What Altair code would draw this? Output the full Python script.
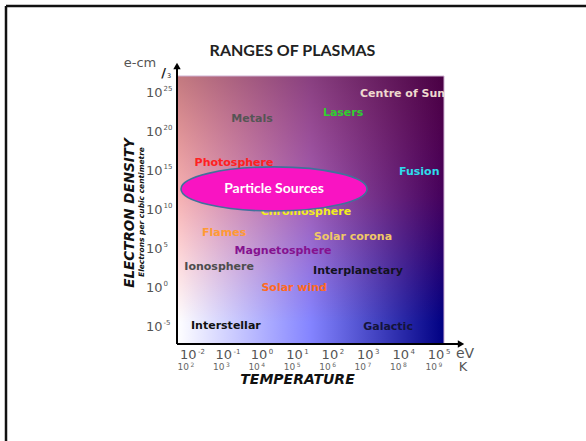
import altair as alt
import pandas as pd

# ---- data -------------------------------------------------------------
# Plasma regions placed by log10(temperature / eV) and log10(density / cm^-3)
region_names = ["Centre of Sun", "Lasers", "Metals", "Photosphere", "Fusion",
                "Chromosphere", "Flames", "Solar corona", "Magnetosphere",
                "Ionosphere", "Interplanetary", "Solar wind", "Interstellar",
                "Galactic"]
region_log_temp = [3.96, 2.28, -0.29, -0.80, 4.43, 1.23, -1.08, 2.56, 0.585,
                   -1.22, 2.70, 0.90, -1.03, 3.55]
region_log_density = [24.87, 22.43, 21.66, 16.0, 14.86, 9.72, 7.03, 6.51, 4.72,
                      2.66, 2.15, -0.03, -4.91, -5.04]
region_colors = ["#eed9cf", "#2fd12f", "#555555", "#ff2020", "#2edcec",
                 "#f2ee1e", "#ff9a33", "#f0c866", "#85128f", "#4d4d4d",
                 "#12121f", "#ff6a22", "#111111", "#14143a"]

# Highlighted area
source_name = ["Particle Sources"]
source_log_temp = [0.33]
source_log_density = [12.68]

# Axis ticks
temp_exponents = [-2, -1, 0, 1, 2, 3, 4, 5]
kelvin_exponents = ["2", "3", "4", "5", "6", "7", "8", "9"]
density_exponents = [25, 20, 15, 10, 5, 0, -5]

W, H = 267, 268
X_DOMAIN = [-2.41, 5.13]
Y_DOMAIN = [-7.22, 27.18]

xs = alt.Scale(domain=X_DOMAIN, nice=False, zero=False)
ys = alt.Scale(domain=Y_DOMAIN, nice=False, zero=False)

regions = pd.DataFrame({"name": region_names, "t": region_log_temp,
                        "d": region_log_density, "c": region_colors})
source = pd.DataFrame({"name": source_name, "t": source_log_temp,
                       "d": source_log_density})
xticks = pd.DataFrame({"t": temp_exponents,
                       "e": [str(v) for v in temp_exponents],
                       "k": kelvin_exponents})
yticks = pd.DataFrame({"d": density_exponents,
                       "e": [str(v) for v in density_exponents]})
one = pd.DataFrame({"a": [0]})

FONT = "DejaVu Sans"

# ---- background gradients --------------------------------------------
base_grad = alt.LinearGradient(
    gradient="linear", x1=0, x2=1, y1=0, y2=0,
    stops=[alt.GradientStop(color="#ffffff", offset=0),
           alt.GradientStop(color="#8484ff", offset=0.5),
           alt.GradientStop(color="#000082", offset=1)])
red_grad = alt.LinearGradient(
    gradient="linear", x1=0, x2=0, y1=0, y2=1,
    stops=[alt.GradientStop(color="rgba(140,0,10,0.52)", offset=0),
           alt.GradientStop(color="rgba(225,0,0,0.30)", offset=0.45),
           alt.GradientStop(color="rgba(255,0,0,0.12)", offset=0.72),
           alt.GradientStop(color="rgba(255,0,0,0.0)", offset=0.92),
           alt.GradientStop(color="rgba(255,0,0,0.0)", offset=1)])

box = dict(x=alt.value(0), x2=alt.value(W), y=alt.value(0), y2=alt.value(H))
bg = alt.Chart(one).mark_rect(fill=base_grad).encode(**box)
bg_red = alt.Chart(one).mark_rect(fill=red_grad, stroke="#cfb2d2",
                                  strokeWidth=1).encode(**box)

# ---- region labels ----------------------------------------------------
labels = alt.Chart(regions).mark_text(
    font=FONT, fontWeight="bold", fontSize=11, align="center",
    baseline="middle", clip=True).encode(
    x=alt.X("t:Q", scale=xs, axis=None),
    y=alt.Y("d:Q", scale=ys, axis=None),
    text="name:N",
    color=alt.Color("c:N", scale=None))

ellipse_path = ("M -1 0 C -1 -0.131 -0.552 -0.237 0 -0.237 "
                "C 0.552 -0.237 1 -0.131 1 0 "
                "C 1 0.131 0.552 0.237 0 0.237 "
                "C -0.552 0.237 -1 0.131 -1 0 Z")
ellipse = alt.Chart(source).mark_point(
    shape=ellipse_path, filled=True, fill="#f914c2", fillOpacity=1,
    opacity=1, stroke="#41719c", strokeWidth=1.6, size=34600).encode(
    x=alt.X("t:Q", scale=xs), y=alt.Y("d:Q", scale=ys))
ellipse_text = alt.Chart(source).mark_text(
    font="Lato", fontWeight="bold", fontSize=14, color="white",
    align="center", baseline="middle").encode(
    x=alt.X("t:Q", scale=xs), y=alt.Y("d:Q", scale=ys), text="name:N")

# ---- axes with arrows -------------------------------------------------
axis_x = alt.Chart(one).mark_rule(color="black", strokeWidth=2).encode(
    x=alt.value(0), x2=alt.value(282), y=alt.value(H))
axis_y = alt.Chart(one).mark_rule(color="black", strokeWidth=2).encode(
    x=alt.value(0), y=alt.value(H), y2=alt.value(-10))
arrow_x = alt.Chart(one).mark_point(
    shape="triangle-right", filled=True, color="black", opacity=1,
    size=55).encode(x=alt.value(284), y=alt.value(H))
arrow_y = alt.Chart(one).mark_point(
    shape="triangle-up", filled=True, color="black", opacity=1,
    size=55).encode(x=alt.value(0), y=alt.value(-10))

# x tick labels (eV row and K row)
x_base = alt.Chart(xticks).mark_text(
    font=FONT, fontSize=13, color="#555555", align="right", baseline="middle",
    dx=5).encode(x=alt.X("t:Q", scale=xs), y=alt.value(H + 11),
                 text=alt.value("10"))
x_exp = alt.Chart(xticks).mark_text(
    font=FONT, fontSize=7, color="#555555", align="left", baseline="middle",
    dx=6.5).encode(x=alt.X("t:Q", scale=xs), y=alt.value(H + 7.5), text="e:N")
k_base = alt.Chart(xticks).mark_text(
    font=FONT, fontSize=9, color="#666666", align="right", baseline="middle",
    dx=-2.5).encode(x=alt.X("t:Q", scale=xs), y=alt.value(H + 23),
                    text=alt.value("10"))
k_exp = alt.Chart(xticks).mark_text(
    font=FONT, fontSize=6, color="#666666", align="left", baseline="middle",
    dx=-1).encode(x=alt.X("t:Q", scale=xs), y=alt.value(H + 21),
                  text="k:N")

# y tick labels
y_base = alt.Chart(yticks).mark_text(
    font=FONT, fontSize=13, color="#555555", align="right",
    baseline="middle").encode(x=alt.value(-14.5), y=alt.Y("d:Q", scale=ys),
                              text=alt.value("10"))
y_exp = alt.Chart(yticks).mark_text(
    font=FONT, fontSize=7, color="#555555", align="left", baseline="middle",
    dy=-4).encode(x=alt.value(-13.5), y=alt.Y("d:Q", scale=ys), text="e:N")


def note(txt, x, y, **kw):
    style = dict(font=FONT, align="center", baseline="middle")
    style.update(kw)
    return alt.Chart(one).mark_text(text=txt, **style).encode(
        x=alt.value(x), y=alt.value(y))


notes = [
    note("RANGES OF PLASMAS", 115.5, -25, font="Lato", fontWeight="bold",
         fontSize=16, color="#222222"),
    note("ELECTRON DENSITY", -47, 137, angle=270, fontWeight="bold",
         fontStyle="italic", fontSize=13.5, color="#111111"),
    note("Electrons per cubic centimetre", -35, 136, angle=270,
         fontWeight="bold", fontStyle="italic", fontSize=7.5, color="#111111"),
    note("TEMPERATURE", 120.5, 304, fontWeight="bold", fontStyle="italic",
         fontSize=14, color="#111111"),
    note("eV", 288, 277.5, fontSize=14, color="#555555"),
    note("K", 286, 291, fontSize=13, color="#555555"),
    note("e-cm", -37, -13, fontSize=13, color="#555555"),
    note("/", -13.5, -3, fontSize=13, fontWeight="bold", color="#222222"),
    note("3", -8, -0.5, fontSize=6.5, color="#222222"),
]

# slide frame lines
frame_top = alt.Chart(one).mark_rule(color="#111111", strokeWidth=2.5).encode(
    x=alt.value(-171), x2=alt.value(420), y=alt.value(-70))
frame_left = alt.Chart(one).mark_rule(color="#111111", strokeWidth=2.5).encode(
    x=alt.value(-171), y=alt.value(-70), y2=alt.value(370))

chart = alt.layer(
    bg, bg_red, labels, ellipse, ellipse_text,
    axis_x, axis_y, arrow_x, arrow_y,
    x_base, x_exp, k_base, k_exp, y_base, y_exp,
    *notes, frame_top, frame_left
).properties(
    width=W, height=H,
    padding={"left": 177, "top": 76, "right": 142, "bottom": 97},
    autosize=alt.AutoSizeParams(type="none"),
    background="white"
).configure_view(strokeWidth=0)

chart.save("out.html", embed_options={"renderer": "svg", "actions": False})
